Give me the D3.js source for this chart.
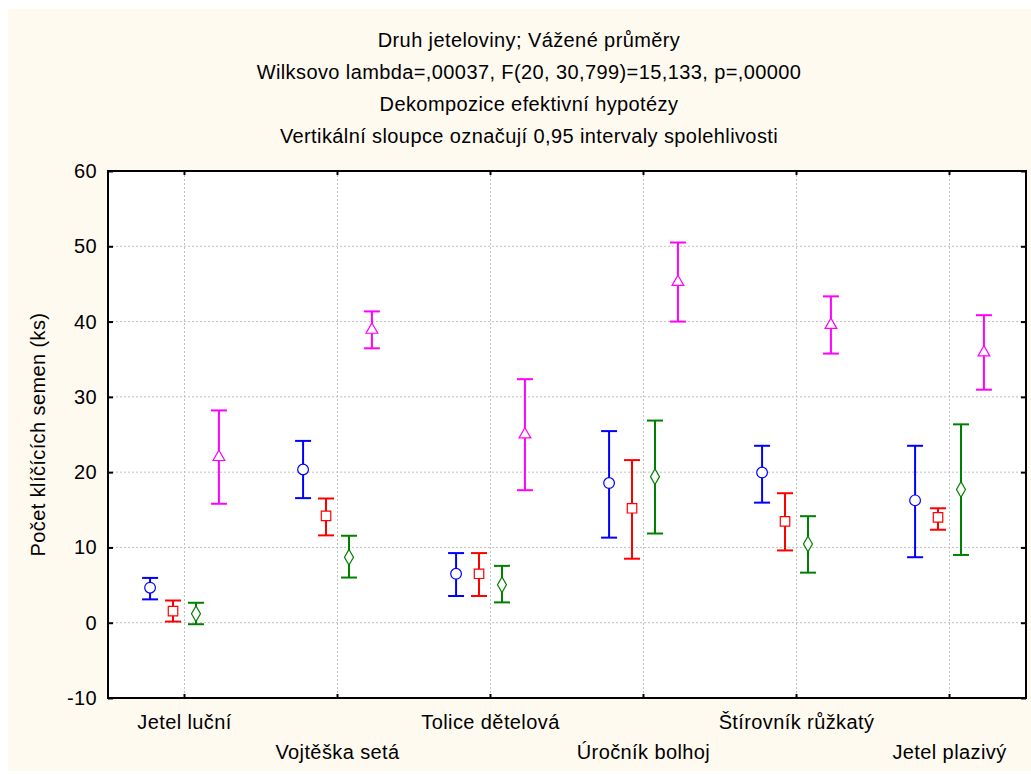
<!DOCTYPE html>
<html>
<head>
<meta charset="utf-8">
<script src="https://cdn.jsdelivr.net/npm/d3@7"></script>
<style>
  body { margin: 0; background: #fff; }
  text { font-family: "Liberation Sans", Arial, sans-serif; fill: #000; font-size: 20px; letter-spacing: 0.4px; }
</style>
</head>
<body>
<script>
// categories (druh jeteloviny) and tick values
const categories = ["Jetel luční", "Vojtěška setá", "Tolice dětelová", "Úročník bolhoj", "Štírovník růžkatý", "Jetel plazivý"];
const yTicks = [-10, 0, 10, 20, 30, 40, 50, 60];
const titleLines = [
  "Druh jeteloviny; Vážené průměry",
  "Wilksovo lambda=,00037, F(20, 30,799)=15,133, p=,00000",
  "Dekompozice efektivní hypotézy",
  "Vertikální sloupce označují 0,95 intervaly spolehlivosti"
];
const yLabel = "Počet klíčících semen (ks)";

// series 1 (blue circles)
const circleMean = [4.65, 20.35, 6.5, 18.55, 19.95, 16.25];
const circleLow  = [3.1, 16.55, 3.55, 11.3, 15.95, 8.7];
const circleHigh = [5.95, 24.15, 9.25, 25.45, 23.5, 23.5];
// series 2 (red squares)
const squareMean = [1.55, 14.2, 6.5, 15.2, 13.45, 14.0];
const squareLow  = [0.15, 11.6, 3.55, 8.5, 9.6, 12.35];
const squareHigh = [2.95, 16.5, 9.25, 21.6, 17.2, 15.2];
// series 3 (green diamonds)
const diamondMean = [1.2, 8.7, 5.05, 19.4, 10.45, 17.7];
const diamondLow  = [-0.2, 6.0, 2.7, 11.85, 6.65, 9.0];
const diamondHigh = [2.65, 11.55, 7.55, 26.85, 14.15, 26.35];
// series 4 (magenta triangles)
const triangleMean = [22.0, 38.9, 25.0, 45.25, 39.55, 35.9];
const triangleLow  = [15.8, 36.45, 17.6, 40.0, 35.75, 30.95];
const triangleHigh = [28.2, 41.35, 32.35, 50.5, 43.35, 40.85];

const series = [
  { key: "circle",   color: "#0000ff", shape: d3.symbolCircle,   size: 90,  mean: circleMean,   low: circleLow,   high: circleHigh },
  { key: "square",   color: "#ff0000", shape: d3.symbolSquare,   size: 90,  mean: squareMean,   low: squareLow,   high: squareHigh },
  { key: "diamond",  color: "#008000", shape: d3.symbolDiamond,  size: 70,  mean: diamondMean,  low: diamondLow,  high: diamondHigh },
  { key: "triangle", color: "#ff00ff", shape: d3.symbolTriangle, size: 60,  mean: triangleMean, low: triangleLow, high: triangleHigh }
];

const W = 1031, H = 774;
const margin = { top: 171, left: 108, right: 5, bottom: 76 };
const width = W - margin.left - margin.right;
const height = H - margin.top - margin.bottom;

const svg = d3.select("body").append("svg")
  .attr("width", W)
  .attr("height", H);

// cream panel
svg.append("rect")
  .attr("x", 8).attr("y", 9)
  .attr("width", W - 8).attr("height", 762)
  .attr("fill", "#fffaf0");

// titles
svg.selectAll("text.title")
  .data(titleLines)
  .enter().append("text")
  .attr("class", "title")
  .attr("x", 529)
  .attr("y", (d, i) => 47 + i * 32)
  .attr("text-anchor", "middle")
  .text(d => d);

const g = svg.append("g")
  .attr("transform", `translate(${margin.left}, ${margin.top})`);

g.append("rect")
  .attr("width", width).attr("height", height)
  .attr("fill", "#fff");

const x = d3.scaleBand().domain(categories).range([0, width]);
const xs = d3.scalePoint().domain(series.map(s => s.key))
  .range([x.bandwidth() * 0.275, x.bandwidth() * 0.725]);
const y = d3.scaleLinear().domain([-10, 60]).range([height, 0]);

// grid
g.selectAll("line.hgrid")
  .data(yTicks.slice(1, -1))
  .enter().append("line")
  .attr("x1", 0).attr("x2", width)
  .attr("y1", d => y(d)).attr("y2", d => y(d))
  .attr("stroke", "#c0c0c0").attr("stroke-dasharray", "2,2");

g.selectAll("line.vgrid")
  .data(categories)
  .enter().append("line")
  .attr("x1", d => x(d) + x.bandwidth() / 2).attr("x2", d => x(d) + x.bandwidth() / 2)
  .attr("y1", 0).attr("y2", height)
  .attr("stroke", "#c0c0c0").attr("stroke-dasharray", "2,2");

// axes with inward ticks
const yAxis = g.append("g")
  .call(d3.axisRight(y).tickValues(yTicks).tickSize(5).tickFormat(""));
const yAxisR = g.append("g")
  .attr("transform", `translate(${width},0)`)
  .call(d3.axisLeft(y).tickValues(yTicks).tickSize(5).tickFormat(""));
const xAxisT = g.append("g")
  .call(d3.axisBottom(x).tickSize(4).tickFormat(""));
const xAxisB = g.append("g")
  .attr("transform", `translate(0,${height})`)
  .call(d3.axisTop(x).tickSize(4).tickFormat(""));
[yAxis, yAxisR, xAxisT, xAxisB].forEach(a => {
  a.select(".domain").remove();
  a.selectAll(".tick line").attr("stroke", "#000").attr("stroke-width", 2);
});

g.append("rect")
  .attr("width", width).attr("height", height)
  .attr("fill", "none")
  .attr("stroke", "#000").attr("stroke-width", 2);

// y tick labels
svg.selectAll("text.ytick")
  .data(yTicks)
  .enter().append("text")
  .attr("class", "ytick")
  .attr("x", 97)
  .attr("y", d => margin.top + y(d))
  .attr("dy", "0.35em")
  .attr("text-anchor", "end")
  .text(d => d);

// x labels, alternating rows
svg.selectAll("text.xtick")
  .data(categories)
  .enter().append("text")
  .attr("class", "xtick")
  .attr("x", d => margin.left + x(d) + x.bandwidth() / 2)
  .attr("y", (d, i) => i % 2 === 0 ? 729 : 759)
  .attr("text-anchor", "middle")
  .text(d => d);

svg.append("text")
  .attr("transform", `translate(45, ${margin.top + height / 2}) rotate(-90)`)
  .attr("text-anchor", "middle")
  .text(yLabel);

// error bars and means
const capW = 8;
series.forEach(s => {
  const sg = g.append("g");
  const rows = categories.map((c, i) => ({ c, mean: s.mean[i], low: s.low[i], high: s.high[i] }));
  const cx = d => x(d.c) + xs(s.key);

  sg.selectAll("line.bar").data(rows).enter().append("line")
    .attr("x1", cx).attr("x2", cx)
    .attr("y1", d => y(d.low)).attr("y2", d => y(d.high))
    .attr("stroke", s.color).attr("stroke-width", 2);
  sg.selectAll("line.capH").data(rows).enter().append("line")
    .attr("x1", d => cx(d) - capW).attr("x2", d => cx(d) + capW)
    .attr("y1", d => y(d.high)).attr("y2", d => y(d.high))
    .attr("stroke", s.color).attr("stroke-width", 2);
  sg.selectAll("line.capL").data(rows).enter().append("line")
    .attr("x1", d => cx(d) - capW).attr("x2", d => cx(d) + capW)
    .attr("y1", d => y(d.low)).attr("y2", d => y(d.low))
    .attr("stroke", s.color).attr("stroke-width", 2);
  sg.selectAll("path.mark").data(rows).enter().append("path")
    .attr("transform", d => `translate(${cx(d)},${y(d.mean)})`)
    .attr("d", d3.symbol().type(s.shape).size(s.size))
    .attr("fill", "#fff")
    .attr("stroke", s.color).attr("stroke-width", 1.2);
});
</script>
</body>
</html>
